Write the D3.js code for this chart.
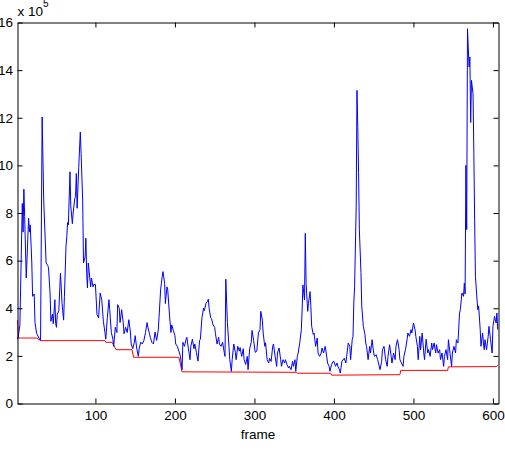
<!DOCTYPE html>
<html>
<head>
<meta charset="utf-8">
<script src="https://cdn.jsdelivr.net/npm/d3@7"></script>
<style>
  body { margin: 0; background: #fff; }
  svg text { font-family: "Liberation Sans", Arial, sans-serif; fill: #000; }
</style>
</head>
<body>
<div id="chart"></div>
<script>
// blue trace (x 10^5)
const blueFrames = [2,3,5,8,9,10,11,13,16,17,18,20,21,23,24,26,29,31,33,35,38,40,41,43,44,46,47,49,50,51,52,54,56,57,58,60,61,63,64,65,66,68,69,71,72,74,75,76,77,79,81,82,84,85,87,88,89,90,91,92,94,95,97,98,
  100,102,104,106,108,110,112,113,115,117,118,120,122,123,125,127,128,130,131,133,135,136,138,140,142,144,145,147,149,150,152,154,155,157,159,161,163,165,166,168,169,171,173,175,177,179,180,182,184,185,187,188,190,191,193,195,196,198,
  200,201,203,205,207,209,210,212,214,215,217,219,220,222,224,225,227,229,231,232,234,236,237,239,241,242,243,245,246,248,250,251,253,255,256,258,260,262,263,264,266,268,269,271,272,274,276,277,279,281,282,284,286,287,289,291,292,294,296,297,299,
  301,303,305,307,308,310,311,313,314,316,318,319,321,323,324,326,328,329,331,333,334,336,338,339,341,343,344,346,348,349,351,352,354,355,357,359,360,361,363,364,365,367,368,370,371,372,374,375,377,379,380,382,384,385,387,389,390,392,394,395,397,399,
  400,402,404,405,407,408,410,413,415,416,418,420,421,423,424,425,426,428,429,430,431,432,434,435,437,439,440,441,443,445,446,448,450,451,453,455,456,458,460,461,463,465,467,468,470,472,473,475,477,478,480,482,483,485,487,488,490,492,493,495,497,498,
  500,502,503,505,506,508,509,511,513,514,516,518,519,521,523,524,526,528,529,531,533,534,536,538,539,541,543,544,546,548,549,551,553,554,556,558,559,561,563,564,565,566,567,568,570,571,572,573,575,576,577,578,580,581,582,584,585,587,588,589,590,592,594,595,597,599,
  600,602,604,605,606];
const blueValues = [2.7,2.82,3.3,8.4,7.2,9.0,7.85,5.27,7.78,7.2,7.5,5.9,4.5,4.6,3.4,2.95,2.75,2.65,12.03,8.5,5.9,5.8,5.7,4.6,3.45,3.75,3.35,4.36,3.35,3.2,3.75,3.9,5.47,4.9,4.2,3.5,4.5,6.6,7.0,7.6,7.5,9.73,8.3,7.55,8.0,8.6,8.7,9.66,8.2,9.9,11.4,10.5,8.5,5.9,6.15,6.94,5.47,4.85,5.9,5.6,4.9,5.27,4.9,5.0,
  5.0,3.73,3.6,4.64,4.35,3.45,2.98,2.7,3.6,4.36,3.94,2.98,2.7,2.4,3.2,2.98,4.15,4.0,3.4,3.94,3.4,2.93,3.2,2.98,3.52,3.0,2.5,2.3,2.57,2.85,2.3,1.98,2.3,2.57,2.5,2.65,2.98,3.4,3.2,2.93,2.78,2.57,2.5,3.0,2.65,3.07,3.6,4.77,5.33,5.54,5.05,4.2,4.9,4.77,3.8,2.98,3.3,3.07,
  2.85,2.5,2.4,2.2,1.98,1.42,2.57,2.4,2.7,2.78,2.3,1.84,2.4,2.7,2.3,2.5,2.15,1.78,2.65,2.7,3.6,4.0,3.9,4.2,4.29,4.38,4.0,3.6,3.57,3.3,3.2,2.93,2.5,2.78,2.5,2.4,2.57,2.15,1.98,5.22,3.4,2.4,1.84,1.35,1.84,2.5,2.15,1.84,2.4,2.2,2.35,1.98,2.3,1.84,1.64,1.98,1.42,2.3,2.57,3.07,2.65,
  2.15,2.2,2.96,3.1,3.87,3.5,2.96,2.4,2.55,1.84,1.7,1.9,1.77,2.4,2.5,1.98,1.56,2.12,2.33,1.84,1.56,1.84,1.7,1.84,1.63,1.49,1.56,1.42,1.77,1.56,1.84,1.35,1.98,2.12,2.55,3.1,3.94,4.98,4.35,7.15,5.05,3.87,4.2,4.7,4.07,3.24,2.9,2.96,2.4,2.75,2.12,1.98,2.12,2.33,2.12,2.4,2.2,1.7,1.56,1.35,1.63,1.77,
  1.77,1.56,1.7,1.56,1.42,1.28,1.77,1.9,1.7,1.98,2.54,2.4,1.84,2.68,2.82,4.22,4.9,8.26,13.15,11.6,9.7,7.29,5.5,4.08,3.24,2.9,2.54,2.4,1.84,2.4,2.12,2.68,2.12,1.98,2.05,1.84,1.7,1.42,1.77,2.26,2.4,1.84,1.56,1.98,2.47,1.98,1.7,2.12,1.84,2.4,2.68,2.26,1.84,1.7,1.56,1.98,2.26,2.68,2.96,2.82,3.1,2.96,
  3.38,3.1,2.82,2.4,1.84,2.82,2.26,2.96,2.12,1.84,2.7,2.12,2.26,1.98,2.54,2.26,2.54,2.12,2.47,2.12,2.26,1.84,2.12,1.56,1.98,2.26,1.84,2.68,2.12,1.56,2.12,2.4,2.12,2.68,2.54,3.8,3.94,4.64,4.5,5.05,4.6,10.0,7.3,15.74,14.13,14.55,11.8,13.57,13.0,10.5,7.7,5.33,4.35,3.94,4.1,3.1,2.4,2.96,2.54,2.26,2.68,2.26,2.82,3.24,2.68,2.12,
  3.24,3.66,3.38,3.8,3.1];

// red step line
const redFrames = [2,3,26,31,112,113,121,126,146,148,205,209,353,354,396,397,483,484,543,544,604,606];
const redValues = [3.5,2.75,2.75,2.64,2.64,2.57,2.57,2.26,2.26,1.94,1.94,1.33,1.31,1.27,1.27,1.19,1.21,1.39,1.39,1.54,1.55,1.6];

const xTicks = [100, 200, 300, 400, 500, 600];
const yTicks = [0, 2, 4, 6, 8, 10, 12, 14, 16];

const width = 505, height = 451;
const margin = { top: 22.5, right: 6.5, bottom: 47.5, left: 17.5 };
const fontSize = 13.5;

const svg = d3.select('#chart').append('svg')
  .attr('width', width)
  .attr('height', height);

const x = d3.scaleLinear().domain([2, 607]).range([margin.left, width - margin.right]);
const y = d3.scaleLinear().domain([0, 16]).range([height - margin.bottom, margin.top]);

const blue = blueFrames.map((f, i) => [f, blueValues[i]]);
const red = redFrames.map((f, i) => [f, redValues[i]]);

const line = d3.line().x(d => x(d[0])).y(d => y(d[1]));

// series
svg.append('path')
  .datum(red)
  .attr('fill', 'none')
  .attr('stroke', '#ff0000')
  .attr('stroke-width', 1)
  .attr('d', line);

svg.append('path')
  .datum(blue)
  .attr('fill', 'none')
  .attr('stroke', '#0000ff')
  .attr('stroke-width', 1)
  .attr('stroke-linejoin', 'round')
  .attr('d', line);

// axes, ticks inward on all four sides (box on)
const styleAxis = g => {
  g.select('.domain').attr('stroke', '#000');
  g.selectAll('.tick line').attr('stroke', '#000');
  g.selectAll('text').attr('font-size', fontSize).attr('font-family', null);
};

svg.append('g')
  .attr('transform', `translate(0,${height - margin.bottom})`)
  .call(d3.axisBottom(x).tickValues(xTicks).tickSizeInner(-5).tickSizeOuter(0).tickPadding(7))
  .call(styleAxis);

svg.append('g')
  .attr('transform', `translate(${margin.left},0)`)
  .call(d3.axisLeft(y).tickValues(yTicks).tickSizeInner(-5).tickSizeOuter(0).tickPadding(4.5))
  .call(styleAxis);

svg.append('g')
  .attr('transform', `translate(0,${margin.top})`)
  .call(d3.axisTop(x).tickValues(xTicks).tickSizeInner(-5).tickSizeOuter(0).tickFormat(''))
  .call(styleAxis);

svg.append('g')
  .attr('transform', `translate(${width - margin.right},0)`)
  .call(d3.axisRight(y).tickValues(yTicks).tickSizeInner(-5).tickSizeOuter(0).tickFormat(''))
  .call(styleAxis);

// exponent label
const expo = svg.append('text')
  .attr('x', margin.left)
  .attr('y', 15.5)
  .attr('font-size', fontSize);
expo.append('tspan').text('x 10');
expo.append('tspan').attr('dy', -9).attr('font-size', 10).text('5');

// x label
svg.append('text')
  .attr('x', (margin.left + width - margin.right) / 2)
  .attr('y', 439)
  .attr('text-anchor', 'middle')
  .attr('font-size', fontSize)
  .text('frame');
</script>
</body>
</html>
